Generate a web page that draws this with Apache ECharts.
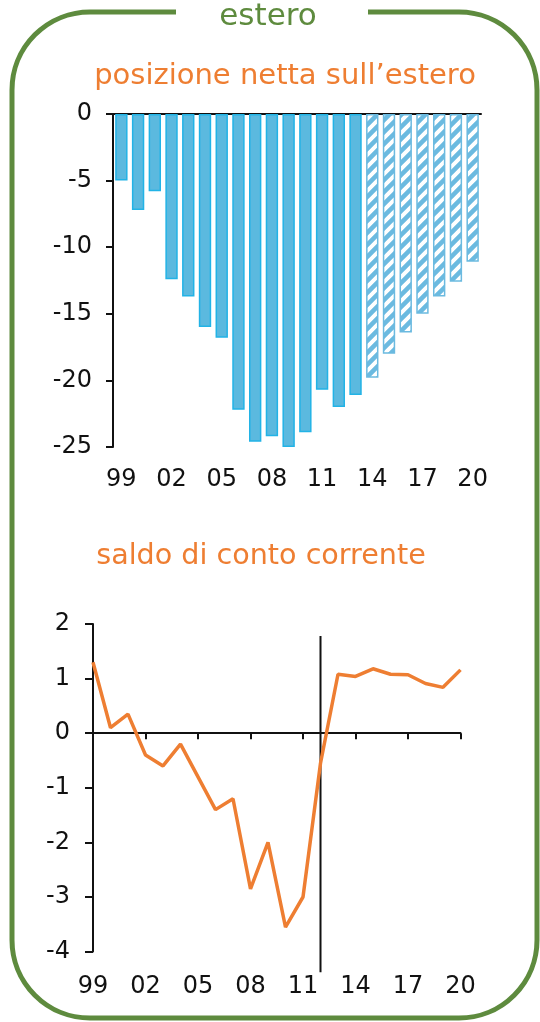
<!DOCTYPE html>
<html>
<head>
<meta charset="utf-8">
<script src="https://cdn.jsdelivr.net/npm/echarts@6/dist/echarts.min.js"></script>
<style>
  html, body { margin: 0; padding: 0; background: #fff; }
  #main { width: 540px; height: 1022px; }
</style>
</head>
<body>
<div id="main"></div>
<script>
  // anni 1999-2020
  const years = ['99', '00', '01', '02', '03', '04', '05', '06', '07', '08', '09',
    '10', '11', '12', '13', '14', '15', '16', '17', '18', '19', '20'];
  // posizione netta sull'estero (% PIL)
  const netPosition = [-5.0, -7.2, -5.8, -12.4, -13.7, -16.0, -16.8, -22.2, -24.6, -24.2, -25.0,
    -23.9, -20.7, -22.0, -21.1, -19.8, -18.0, -16.4, -15.0, -13.7, -12.6, -11.1];
  const forecastStart = 15; // dal 2014 barre tratteggiate (previsioni)
  // saldo di conto corrente (% PIL)
  const currentAccount = [1.3, 0.1, 0.35, -0.4, -0.6, -0.2, -0.8, -1.4, -1.2, -2.85, -2.0,
    -3.55, -3.0, -0.55, 1.08, 1.04, 1.18, 1.08, 1.07, 0.91, 0.84, 1.16];
  // linea verticale nel 2012
  const markerYear = 13;
  const markerRange = [1.78, -4.38];

  const GREEN = '#5E8B3E';
  const ORANGE = '#EE7E32';
  const BLUE = '#5BB9DF';
  const BLUE_BORDER = '#22B3E6';
  const FONT = 'DejaVu Sans';

  // pattern per le barre tratteggiate
  function hatch() {
    const c = document.createElement('canvas');
    c.width = 12;
    c.height = 12;
    const ctx = c.getContext('2d');
    ctx.fillStyle = '#fff';
    ctx.fillRect(0, 0, 12, 12);
    ctx.strokeStyle = '#6BBAE0';
    ctx.lineWidth = 4.5;
    ctx.beginPath();
    ctx.moveTo(-3, 15); ctx.lineTo(15, -3);
    ctx.moveTo(-9, 9); ctx.lineTo(9, -9);
    ctx.moveTo(3, 21); ctx.lineTo(21, 3);
    ctx.stroke();
    return c;
  }
  const hatchImg = hatch();

  const barData = netPosition.map((v, i) => {
    if (i < forecastStart) {
      return { value: v, itemStyle: { color: BLUE, borderColor: BLUE_BORDER, borderWidth: 1.5 } };
    }
    return {
      value: v,
      itemStyle: { color: { image: hatchImg, repeat: 'repeat' }, borderColor: '#6BBAE0', borderWidth: 1.5 },
    };
  });

  const labelStyle = { color: '#111', fontFamily: FONT, fontSize: 24 };

  const myChart = echarts.init(document.getElementById('main'));
  myChart.setOption({
    animation: false,
    backgroundColor: '#fff',
    title: [
      {
        text: 'posizione netta sull\u2019estero',
        left: 280, top: 57, textAlign: 'center',
        textStyle: { color: ORANGE, fontFamily: FONT, fontSize: 29, fontWeight: 'normal' },
      },
      {
        text: 'saldo di conto corrente',
        left: 256, top: 537, textAlign: 'center',
        textStyle: { color: ORANGE, fontFamily: FONT, fontSize: 28.6, fontWeight: 'normal' },
      },
    ],
    graphic: [
      {
        type: 'rect', z: -1,
        shape: { x: 12, y: 12, width: 525, height: 1006, r: 78 },
        style: { fill: 'none', stroke: GREEN, lineWidth: 5 },
      },
      {
        type: 'rect', z: 0,
        shape: { x: 176, y: 0, width: 192, height: 26 },
        style: { fill: '#fff' },
      },
      {
        type: 'text', z: 1, x: 268, y: 17,
        style: {
          text: 'estero', fill: GREEN, font: '31px "DejaVu Sans"',
          textAlign: 'center', textVerticalAlign: 'middle',
        },
      },
    ],
    grid: [
      { left: 113, top: 114, width: 368, height: 333 },
      { left: 93, top: 624, width: 367.5, height: 327.6 },
    ],
    xAxis: [
      {
        gridIndex: 0, type: 'category', data: years, position: 'top',
        axisLine: { lineStyle: { color: '#111', width: 2 } },
        axisTick: { show: false }, axisLabel: { show: false },
      },
      {
        gridIndex: 0, type: 'category', data: years, position: 'bottom',
        axisLine: { show: false, onZero: false }, axisTick: { show: false },
        axisLabel: Object.assign({ interval: 2, margin: 21 }, labelStyle),
      },
      {
        gridIndex: 1, type: 'category', data: years, boundaryGap: false,
        axisLine: { onZero: true, lineStyle: { color: '#111', width: 2 } },
        axisTick: { interval: 2, length: 6, lineStyle: { color: '#111', width: 2 } },
        axisLabel: { show: false },
      },
      {
        gridIndex: 1, type: 'category', data: years, boundaryGap: false, position: 'bottom',
        axisLine: { show: false, onZero: false }, axisTick: { show: false },
        axisLabel: Object.assign({ interval: 2, margin: 23 }, labelStyle),
      },
    ],
    yAxis: [
      {
        gridIndex: 0, type: 'value', min: -25, max: 0, interval: 5,
        splitLine: { show: false },
        axisLine: { show: true, lineStyle: { color: '#111', width: 2 } },
        axisTick: { show: true, length: 7, lineStyle: { color: '#111', width: 2 } },
        axisLabel: Object.assign({ margin: 21 }, labelStyle),
      },
      {
        gridIndex: 1, type: 'value', min: -4, max: 2, interval: 1,
        splitLine: { show: false },
        axisLine: { show: true, onZero: false, lineStyle: { color: '#111', width: 2 } },
        axisTick: { show: true, length: 8, lineStyle: { color: '#111', width: 2 } },
        axisLabel: Object.assign({ margin: 23 }, labelStyle),
      },
    ],
    series: [
      {
        type: 'bar', xAxisIndex: 0, yAxisIndex: 0,
        barWidth: '74%', data: barData,
      },
      {
        type: 'line', xAxisIndex: 2, yAxisIndex: 1,
        data: currentAccount, showSymbol: false, symbol: 'none',
        lineStyle: { color: ORANGE, width: 3.5 }, z: 3,
      },
      {
        type: 'custom', xAxisIndex: 2, yAxisIndex: 1, clip: false, z: 2,
        data: [[markerYear, markerRange[0], markerRange[1]]],
        encode: { x: 0, y: [1, 2] },
        renderItem(params, api) {
          const top = api.coord([api.value(0), api.value(1)]);
          const bot = api.coord([api.value(0), api.value(2)]);
          return {
            type: 'line',
            shape: { x1: top[0], y1: top[1], x2: bot[0], y2: bot[1] },
            style: { stroke: '#111', lineWidth: 2 },
          };
        },
      },
    ],
  });
</script>
</body>
</html>
